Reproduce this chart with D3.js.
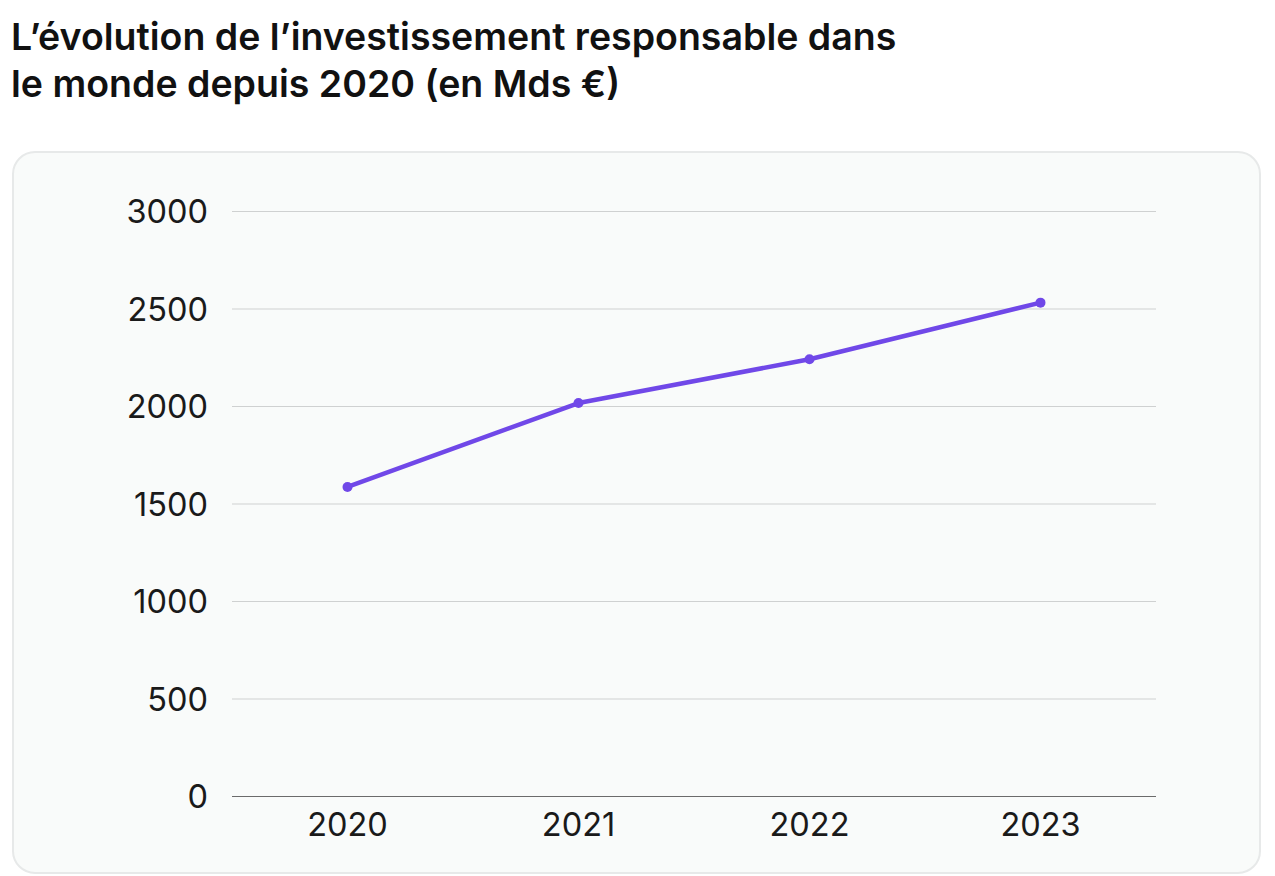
<!DOCTYPE html>
<html>
<head>
<meta charset="utf-8">
<script src="https://cdn.jsdelivr.net/npm/d3@7"></script>
<style>
  body { margin: 0; background: #ffffff; }
  svg { display: block; }
  .title { font-family: Inter, "Noto Sans", sans-serif; font-weight: 600; font-size: 37.5px; fill: #111111; }
  .tick text { font-family: Inter, "Noto Sans", sans-serif; font-size: 32.5px; fill: #1a1a1a; }
</style>
</head>
<body>
<div id="chart"></div>
<script>
// data
var years = ["2020", "2021", "2022", "2023"];
var values = [1585, 2015, 2240, 2530];
var yTicks = [0, 500, 1000, 1500, 2000, 2500, 3000];
var titleLines = ["L\u2019évolution de l\u2019investissement responsable dans", "le monde depuis 2020 (en Mds €)"];

var svgWidth = 1275;
var svgHeight = 876;

var margin = { top: 211, right: 119, bottom: 80, left: 232 };
var width = svgWidth - margin.left - margin.right;
var height = 796 - margin.top;

var svg = d3.select("#chart")
  .append("svg")
  .attr("width", svgWidth)
  .attr("height", svgHeight);

// title
svg.append("text")
  .attr("class", "title")
  .selectAll("tspan")
  .data(titleLines)
  .enter()
  .append("tspan")
  .attr("x", 11)
  .attr("y", (d, i) => 50 + i * 47)
  .text(d => d);

// card behind the chart
svg.append("rect")
  .attr("x", 13)
  .attr("y", 152)
  .attr("width", 1247)
  .attr("height", 721)
  .attr("rx", 22)
  .attr("fill", "#f9fbfa")
  .attr("stroke", "#e7e9e9")
  .attr("stroke-width", 2);

var chartGroup = svg.append("g")
  .attr("transform", `translate(${margin.left}, ${margin.top})`);

var xScale = d3.scaleBand()
  .domain(years)
  .range([0, width]);

var yScale = d3.scaleLinear()
  .domain([0, 3000])
  .range([height, 0]);

// y axis with gridlines
var leftAxis = d3.axisLeft(yScale)
  .tickValues(yTicks)
  .tickSize(-width)
  .tickPadding(24)
  .tickFormat(d3.format("d"));

var yAxis = chartGroup.append("g").call(leftAxis);
yAxis.select(".domain").remove();
yAxis.selectAll(".tick line")
  .attr("stroke", d => d === 0 ? "#6b6b6b" : "#cfd1d1")
  .attr("stroke-width", 1);
yAxis.selectAll(".tick text")
  .attr("dy", "0.36em");

// x axis
var bottomAxis = d3.axisBottom(xScale)
  .tickSize(0)
  .tickPadding(17);

var xAxis = chartGroup.append("g")
  .attr("transform", `translate(0, ${height})`)
  .call(bottomAxis);
xAxis.select(".domain").remove();
xAxis.selectAll(".tick text").attr("dy", "0.71em");

// line + points
var data = years.map((y, i) => ({ year: y, value: values[i] }));

var line = d3.line()
  .x(d => xScale(d.year) + xScale.bandwidth() / 2)
  .y(d => yScale(d.value));

chartGroup.append("path")
  .datum(data)
  .attr("d", line)
  .attr("fill", "none")
  .attr("stroke", "#7048e8")
  .attr("stroke-width", 4.5)
  .attr("stroke-linejoin", "round");

chartGroup.selectAll("circle")
  .data(data)
  .enter()
  .append("circle")
  .attr("cx", d => xScale(d.year) + xScale.bandwidth() / 2)
  .attr("cy", d => yScale(d.value))
  .attr("r", 5)
  .attr("fill", "#7048e8");
</script>
</body>
</html>
